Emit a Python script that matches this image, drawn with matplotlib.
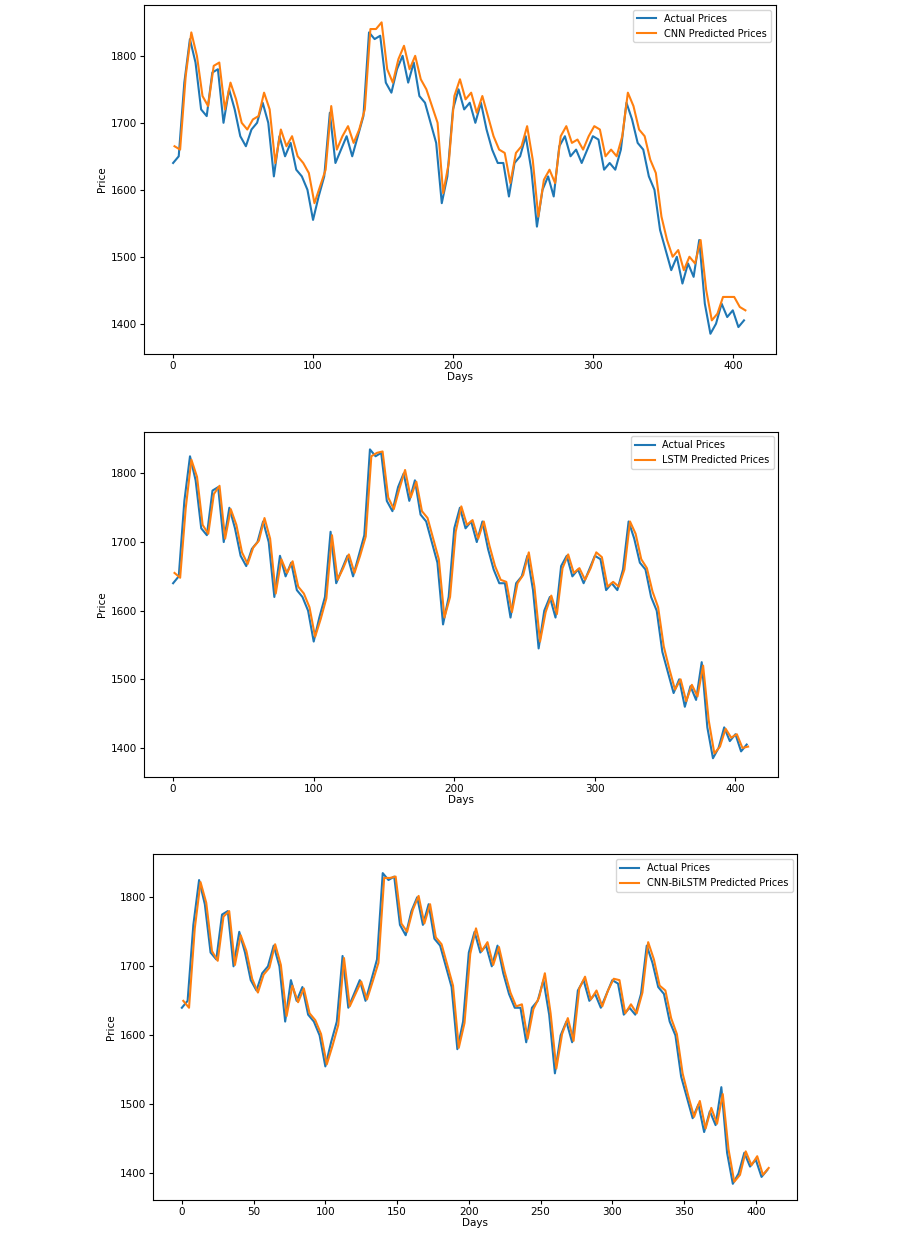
import matplotlib
matplotlib.use('Agg')
import matplotlib.pyplot as plt
import numpy as np

# DATA (sampled every 4 days)

actual = [1640, 1650, 1760, 1825, 1790, 1720, 1710, 1775, 1780, 1700, 1750, 1720, 1680, 1665, 1690, 1700,
          1730, 1700, 1620, 1680, 1650, 1670, 1630, 1620, 1600, 1555, 1590, 1620, 1715, 1640, 1660, 1680,
          1650, 1680, 1710, 1835, 1825, 1830, 1760, 1745, 1780, 1800, 1760, 1790, 1740, 1730, 1700, 1670,
          1580, 1620, 1720, 1750, 1720, 1730, 1700, 1730, 1690, 1660, 1640, 1640, 1590, 1640, 1650, 1680,
          1630, 1545, 1600, 1620, 1590, 1665, 1680, 1650, 1660, 1640, 1660, 1680, 1675, 1630, 1640, 1630,
          1660, 1730, 1705, 1670, 1660, 1620, 1600, 1540, 1510, 1480, 1500, 1460, 1490, 1470, 1525, 1430,
          1385, 1400, 1430, 1410, 1420, 1395, 1405]

cnn_pred = [1665, 1660, 1770, 1835, 1800, 1740, 1725, 1785, 1790, 1720, 1760, 1735, 1700, 1690, 1705, 1710,
            1745, 1720, 1640, 1690, 1665, 1680, 1650, 1640, 1625, 1580, 1605, 1630, 1725, 1660, 1680, 1695,
            1670, 1690, 1720, 1840, 1840, 1850, 1780, 1760, 1795, 1815, 1780, 1800, 1765, 1750, 1725, 1700,
            1595, 1640, 1740, 1765, 1735, 1745, 1715, 1740, 1710, 1680, 1660, 1655, 1610, 1655, 1665, 1695,
            1645, 1560, 1615, 1630, 1610, 1680, 1695, 1670, 1675, 1660, 1680, 1695, 1690, 1650, 1660, 1650,
            1680, 1745, 1725, 1690, 1680, 1645, 1625, 1560, 1525, 1500, 1510, 1480, 1500, 1490, 1525, 1450,
            1405, 1415, 1440, 1440, 1440, 1425, 1420]

lstm_pred = [1655, 1648, 1750, 1820, 1795, 1725, 1712, 1770, 1782, 1705, 1748, 1725, 1685, 1668, 1692, 1702,
             1735, 1705, 1625, 1675, 1655, 1672, 1635, 1625, 1605, 1562, 1588, 1618, 1710, 1645, 1662, 1682,
             1655, 1680, 1708, 1825, 1830, 1832, 1765, 1748, 1778, 1805, 1765, 1788, 1745, 1735, 1705, 1675,
             1590, 1620, 1715, 1752, 1725, 1732, 1705, 1730, 1695, 1665, 1645, 1642, 1598, 1640, 1652, 1685,
             1635, 1555, 1598, 1622, 1595, 1662, 1682, 1655, 1662, 1645, 1662, 1685, 1678, 1635, 1642, 1635,
             1660, 1730, 1712, 1675, 1662, 1628, 1605, 1548, 1515, 1485, 1500, 1468, 1492, 1475, 1520, 1440,
             1392, 1402, 1428, 1415, 1420, 1400, 1402]

bilstm_pred = [1650, 1640, 1755, 1822, 1792, 1722, 1708, 1772, 1780, 1702, 1745, 1722, 1682, 1662, 1688, 1698,
               1732, 1702, 1628, 1672, 1648, 1668, 1632, 1622, 1602, 1558, 1585, 1615, 1712, 1642, 1660, 1678,
               1652, 1678, 1705, 1828, 1828, 1830, 1762, 1750, 1782, 1802, 1762, 1790, 1742, 1732, 1702, 1672,
               1582, 1618, 1718, 1755, 1722, 1735, 1702, 1728, 1692, 1662, 1642, 1645, 1595, 1638, 1655, 1690,
               1632, 1552, 1602, 1625, 1592, 1668, 1685, 1652, 1665, 1642, 1665, 1682, 1680, 1632, 1645, 1632,
               1662, 1735, 1710, 1672, 1665, 1625, 1602, 1545, 1512, 1482, 1505, 1465, 1495, 1472, 1515, 1435,
               1388, 1398, 1432, 1412, 1425, 1398, 1408]

days = np.arange(len(actual)) * 4
pred_days = np.arange(len(cnn_pred)) * 4 + 1

fig = plt.figure(figsize=(9.01, 12.33), dpi=100)

panels = [
    ([0.160, 0.713, 0.701, 0.283], cnn_pred, 'CNN Predicted Prices', (-20.7, 430.7), (1355, 1876)),
    ([0.160, 0.370, 0.704, 0.280], lstm_pred, 'LSTM Predicted Prices', (-20.6, 430.6), (1358, 1861)),
    ([0.170, 0.027, 0.715, 0.280], bilstm_pred, 'CNN-BiLSTM Predicted Prices', (-20.0, 429.0), (1362, 1862)),
]

for rect, pred, label, xl, yl in panels:
    ax = fig.add_axes(rect)
    ax.plot(days, actual, color='#1f77b4', label='Actual Prices')
    ax.plot(pred_days, pred, color='#ff7f0e', label=label)
    ax.set_xlim(*xl)
    ax.set_ylim(*yl)
    ax.set_xlabel('Days', fontsize=7.5, labelpad=1)
    ax.set_ylabel('Price', fontsize=7.5, labelpad=3)
    ax.tick_params(labelsize=7.5, length=3, pad=2)
    ax.legend(loc='upper right', fontsize=7)

fig.savefig('out.png', dpi=100)
